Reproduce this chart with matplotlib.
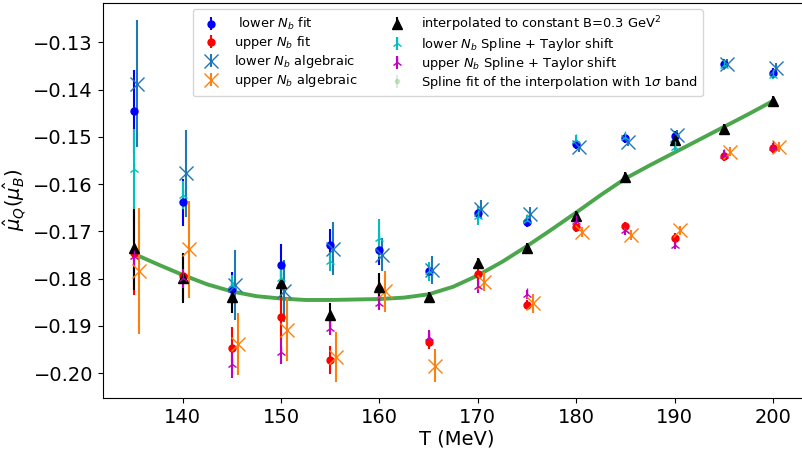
import numpy as np
import matplotlib
matplotlib.use("Agg")
import matplotlib.pyplot as plt

# temperatures (MeV)
T = [135, 140, 145, 150, 155, 160, 165, 170, 175, 180, 185, 190, 195, 200]

# lower / upper N_b fits
low_fit = [-0.1446, -0.1638, -0.1821, -0.1772, -0.1729, -0.1740, -0.1783, -0.1661, -0.1680, -0.1516, -0.1503, -0.1497, -0.1346, -0.1364]
low_fit_err = [0.0087, 0.005, 0.0035, 0.0045, 0.0035, 0.003, 0.0015, 0.0015, 0.001, 0.001, 0.001, 0.001, 0.001, 0.001]
up_fit = [-0.1745, -0.1795, -0.1946, -0.1880, -0.1972, -0.1822, -0.1933, -0.1790, -0.1855, -0.1691, -0.1689, -0.1714, -0.1541, -0.1523]
up_fit_err = [0.009, 0.005, 0.0044, 0.005, 0.003, 0.003, 0.0015, 0.0015, 0.001, 0.001, 0.001, 0.001, 0.001, 0.001]

# lower / upper N_b algebraic
low_alg = [-0.1387, -0.1577, -0.1813, -0.1826, -0.1737, -0.1749, -0.1781, -0.1653, -0.1664, -0.1521, -0.1510, -0.1496, -0.1345, -0.1354]
low_alg_err = [0.0134, 0.0092, 0.0074, 0.0065, 0.0056, 0.0035, 0.003, 0.002, 0.0015, 0.001, 0.001, 0.001, 0.001, 0.001]
up_alg = [-0.1784, -0.1738, -0.1938, -0.1908, -0.1965, -0.1827, -0.1984, -0.1806, -0.1852, -0.1701, -0.1708, -0.1698, -0.1531, -0.1521]
up_alg_err = [0.0134, 0.0103, 0.0066, 0.0067, 0.0053, 0.0043, 0.0035, 0.002, 0.002, 0.001, 0.001, 0.001, 0.001, 0.001]

# interpolated to constant B
interp = [-0.1736, -0.1799, -0.1838, -0.1809, -0.1877, -0.1818, -0.1838, -0.1767, -0.1734, -0.1667, -0.1585, -0.1507, -0.1483, -0.1424]
interp_err = [0.0087, 0.0053, 0.0035, 0.003, 0.0025, 0.003, 0.001, 0.001, 0.001, 0.001, 0.001, 0.001, 0.001, 0.001]

# spline + Taylor shift
low_spl = [-0.1568, -0.1623, -0.1813, -0.1799, -0.1763, -0.1714, -0.1784, -0.1667, -0.1675, -0.1506, -0.1501, -0.1521, -0.1348, -0.1368]
low_spl_err = [0.0085, 0.003, 0.002, 0.002, 0.002, 0.004, 0.002, 0.002, 0.001, 0.001, 0.001, 0.001, 0.001, 0.001]
up_spl = [-0.1753, -0.1799, -0.1980, -0.1955, -0.1905, -0.1852, -0.1923, -0.1816, -0.1833, -0.1678, -0.1698, -0.1728, -0.1538, -0.1522]
up_spl_err = [0.002, 0.002, 0.003, 0.0025, 0.0015, 0.0015, 0.0015, 0.0015, 0.001, 0.001, 0.001, 0.001, 0.001, 0.001]

# spline fit of the interpolation
T_fit = [135, 137.5, 140, 142.5, 145, 147.5, 150, 152.5, 155, 157.5, 160, 162.5, 165, 167.5,
         170, 172.5, 175, 177.5, 180, 182.5, 185, 187.5, 190, 192.5, 195, 197.5, 200]
mu_fit = [-0.1747, -0.1770, -0.1792, -0.1812, -0.1827, -0.1837, -0.1842, -0.1845, -0.1845, -0.1844,
          -0.1843, -0.1840, -0.1833, -0.1817, -0.1793, -0.1764, -0.1731, -0.1696, -0.1660, -0.1623,
          -0.1588, -0.1560, -0.1533, -0.1506, -0.1479, -0.1452, -0.1424]

T = np.array(T)

fig = plt.figure(figsize=(8.03, 4.5), dpi=100)
ax = fig.add_axes([0.128, 0.116, 0.881, 0.878])

ax.plot(T_fit, mu_fit, color='g', lw=2.8, alpha=0.7, zorder=1)

ax.errorbar(T, low_fit, yerr=low_fit_err, fmt='o', color='b', ms=5, label=r' lower $N_b$ fit')
ax.errorbar(T, up_fit, yerr=up_fit_err, fmt='o', color='r', ms=5, label=r'upper $N_b$ fit')
ax.errorbar(T + 0.3, low_alg, yerr=low_alg_err, fmt='x', color='C0', ms=10, label=r'lower $N_b$ algebraic')
ax.errorbar(T + 0.6, up_alg, yerr=up_alg_err, fmt='x', color='C1', ms=10, label=r'upper $N_b$ algebraic')
ax.errorbar(T, interp, yerr=interp_err, fmt='^', color='k', ms=7,
            label=r'interpolated to constant B=0.3 GeV$^2$')
ax.errorbar(T, low_spl, yerr=low_spl_err, fmt='2', color='c', ms=8, label=r'lower $N_b$ Spline + Taylor shift')
ax.errorbar(T, up_spl, yerr=up_spl_err, fmt='2', color='m', ms=8, label=r'upper $N_b$ Spline + Taylor shift')
ax.errorbar([np.nan], [np.nan], yerr=[0.0], fmt='.', color='g', alpha=0.15,
            label=r'Spline fit of the interpolation with 1$\sigma$ band')

ax.set_xlim(131.87, 203.8)
ax.set_ylim(-0.2052, -0.1216)
ax.set_xticks([140, 150, 160, 170, 180, 190, 200])
ax.set_yticks([-0.13, -0.14, -0.15, -0.16, -0.17, -0.18, -0.19, -0.20])
ax.tick_params(labelsize=14)
ax.set_xlabel('T (MeV)', fontsize=14, labelpad=2)
ax.set_ylabel(r'$\hat{\mu}_Q(\hat{\mu_B})$', fontsize=14)

ax.legend(ncol=2, fontsize=9.4, loc='upper center', bbox_to_anchor=(0.4875, 1.0),
          labelspacing=0.15)

fig.savefig('out.png', dpi=100)
